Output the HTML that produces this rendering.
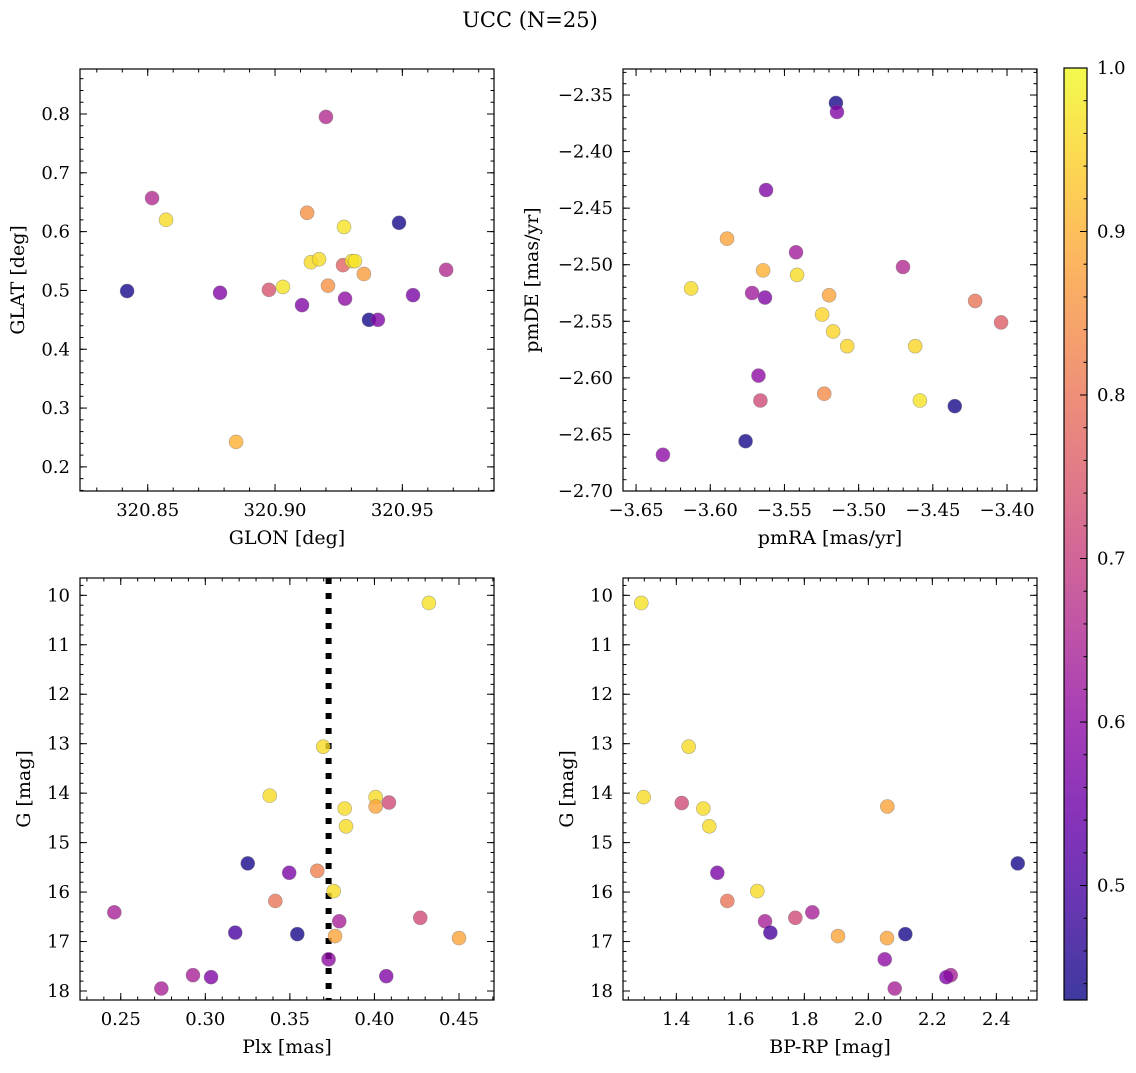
<!DOCTYPE html>
<html><head><meta charset="utf-8"><style>
body{margin:0;background:#fff;}
svg text{font-family:"DejaVu Serif","Liberation Serif",serif;fill:#000;}
</style></head><body>
<svg id="fig" width="1136" height="1068" viewBox="0 0 1136 1068" xmlns="http://www.w3.org/2000/svg">
<text x="530" y="27" font-size="21" text-anchor="middle">UCC (N=25)</text>
<defs><linearGradient id="plasma" x1="0" y1="1" x2="0" y2="0">
<stop offset="0" stop-color="#0d0887"/><stop offset="0.1" stop-color="#41049d"/><stop offset="0.2" stop-color="#6a00a8"/><stop offset="0.3" stop-color="#8f0da4"/><stop offset="0.4" stop-color="#b12a90"/><stop offset="0.5" stop-color="#cc4778"/><stop offset="0.6" stop-color="#e16462"/><stop offset="0.7" stop-color="#f2844b"/><stop offset="0.8" stop-color="#fca636"/><stop offset="0.9" stop-color="#fcce25"/><stop offset="1" stop-color="#f0f921"/>
</linearGradient></defs>
</svg>
<script>
// ---- data ----
const glon = [320.8419,320.8517,320.8572,320.8784,320.8847,320.8976,320.9031,320.9106,320.9126,320.9141,320.9173,320.9200,320.9208,320.9267,320.9271,320.9275,320.9302,320.9314,320.9349,320.9369,320.9404,320.9487,320.9542,320.9672];
const glat = [0.499,0.657,0.620,0.496,0.2425,0.501,0.506,0.475,0.632,0.548,0.553,0.795,0.508,0.543,0.608,0.486,0.550,0.550,0.528,0.450,0.450,0.615,0.492,0.535];
const probA = [0.44,0.66,0.96,0.58,0.9,0.74,0.97,0.58,0.85,0.96,0.96,0.66,0.85,0.77,0.97,0.6,0.97,0.97,0.87,0.44,0.58,0.44,0.57,0.66];
const pmra = [-3.5153,-3.5146,-3.5624,-3.5887,-3.5422,-3.5644,-3.5415,-3.4701,-3.6129,-3.5718,-3.5631,-3.5199,-3.4215,-3.4040,-3.5246,-3.5172,-3.5077,-3.4619,-3.5675,-3.5662,-3.5232,-3.4587,-3.4352,-3.5762,-3.6319];
const pmde = [-2.357,-2.365,-2.434,-2.477,-2.489,-2.505,-2.509,-2.502,-2.521,-2.525,-2.529,-2.527,-2.532,-2.551,-2.544,-2.559,-2.572,-2.572,-2.598,-2.620,-2.614,-2.620,-2.625,-2.656,-2.668];
const probB = [0.44,0.58,0.58,0.88,0.63,0.9,0.96,0.66,0.96,0.63,0.58,0.88,0.8,0.76,0.95,0.95,0.95,0.95,0.6,0.72,0.84,0.97,0.44,0.44,0.6];
const plx = [0.4322,0.3697,0.3381,0.4007,0.4007,0.4086,0.3824,0.3832,0.3251,0.3496,0.3662,0.3759,0.3414,0.2462,0.4271,0.3792,0.3177,0.3544,0.3767,0.4500,0.3729,0.2927,0.3034,0.4070,0.2740];
const gmagC = [10.155,13.06,14.05,14.08,14.27,14.19,14.31,14.67,15.42,15.61,15.57,15.98,16.18,16.41,16.52,16.59,16.82,16.85,16.89,16.93,17.36,17.68,17.72,17.70,17.95];
const probC = [0.97,0.96,0.96,0.96,0.88,0.72,0.96,0.96,0.44,0.57,0.82,0.96,0.8,0.64,0.72,0.64,0.5,0.44,0.88,0.88,0.6,0.64,0.58,0.58,0.64];
const plxLine = 0.3729;
const bprp = [1.2906,1.4387,1.2981,1.4169,1.4844,1.5031,2.0594,1.5281,2.4669,1.6531,1.5594,1.8250,1.7719,1.6772,1.6938,1.9053,2.0584,2.1156,2.0513,2.2575,2.2438,2.0825];
const gmagD = [10.155,13.06,14.08,14.20,14.31,14.67,14.27,15.61,15.42,15.98,16.18,16.41,16.52,16.59,16.82,16.89,16.93,16.85,17.36,17.68,17.72,17.95];
const probD = [0.97,0.96,0.96,0.72,0.96,0.96,0.88,0.57,0.44,0.96,0.8,0.64,0.72,0.64,0.5,0.88,0.88,0.44,0.6,0.64,0.58,0.64];
const cbTicks = [0.5,0.6,0.7,0.8,0.9,1.0];
const vmin = 0.43, vmax = 1.0;

const NS='http://www.w3.org/2000/svg';
const svg=document.getElementById('fig');
function mk(tag,attrs,parent){const e=document.createElementNS(NS,tag);for(const k in attrs)e.setAttribute(k,attrs[k]);(parent||svg).appendChild(e);return e;}
const stops=[[13,8,135],[65,4,157],[106,0,168],[143,13,164],[177,42,144],[204,71,120],[225,100,98],[242,132,75],[252,166,54],[252,206,37],[240,249,33]];
function plasma(v){let t=(v-vmin)/(vmax-vmin);t=Math.max(0,Math.min(1,t))*10;const i=Math.min(9,Math.floor(t)),f=t-i;const a=stops[i],b=stops[i+1];return 'rgb('+a.map((c,k)=>Math.round(c+(b[k]-c)*f)).join(',')+')';}
function fmt(v,d){const s=Math.abs(v).toFixed(d);return (v<-1e-9?'\u2212':'')+s;}

function panel(o){
  const g=mk('g',{});
  
  
  const {x0,y0,w,h}=o;
  const sx=v=>x0+(v-o.xd[0])/(o.xd[1]-o.xd[0])*w;
  const sy=o.yinv?(v=>y0+(v-o.yd[0])/(o.yd[1]-o.yd[0])*h):(v=>y0+h-(v-o.yd[0])/(o.yd[1]-o.yd[0])*h);
  const tk=mk('g',{stroke:'#000','stroke-width':1},g);
  
  
  const lo=Math.min(...o.xd),hi=Math.max(...o.xd);
  for(let i=Math.ceil(lo/o.xm-1e-6);i*o.xm<=hi+1e-9;i++){const p=sx(i*o.xm);mk('line',{x1:p,x2:p,y1:y0+h,y2:y0+h-3.5},tk);mk('line',{x1:p,x2:p,y1:y0,y2:y0+3.5},tk);}
  const ylo=Math.min(...o.yd),yhi=Math.max(...o.yd);
  for(let i=Math.ceil(ylo/o.ym-1e-6);i*o.ym<=yhi+1e-9;i++){const p=sy(i*o.ym);mk('line',{y1:p,y2:p,x1:x0,x2:x0+3.5},tk);mk('line',{y1:p,y2:p,x1:x0+w,x2:x0+w-3.5},tk);}
  o.xt.forEach(v=>{const p=sx(v);mk('line',{x1:p,x2:p,y1:y0+h,y2:y0+h-7},tk);mk('line',{x1:p,x2:p,y1:y0,y2:y0+7},tk);
    const t=mk('text',{x:p,y:y0+h+25,'font-size':18,'text-anchor':'middle'},g);t.textContent=fmt(v,o.xdec);
    
    });
  o.yt.forEach(v=>{const p=sy(v);mk('line',{y1:p,y2:p,x1:x0,x2:x0+7},tk);mk('line',{y1:p,y2:p,x1:x0+w,x2:x0+w-7},tk);
    const t=mk('text',{x:x0-10,y:p+6,'font-size':18,'text-anchor':'end'},g);t.textContent=fmt(v,o.ydec);
    
    });
  if(o.vline!==undefined){const p=sx(o.vline);const l=mk('line',{x1:p,x2:p,y1:y0,y2:y0+h,stroke:'#000','stroke-width':6,'stroke-dasharray':'6 9'},g);
    
    }
  const pts=mk('g',{},g);
  
  
  o.xs.forEach((xv,i)=>{const c=mk('circle',{cx:sx(xv),cy:sy(o.ys[i]),r:7,fill:plasma(o.cs[i]),'fill-opacity':0.8,stroke:'#777','stroke-opacity':0.6,'stroke-width':0.6},pts);
    
    });
  const fr=mk('rect',{x:x0,y:y0,width:w,height:h,fill:'none',stroke:'#000','stroke-width':1.2},g);
  
  
  const xl=mk('text',{x:x0+w/2,y:y0+h+53,'font-size':19,'text-anchor':'middle'},g);xl.textContent=o.xlab;
  
  
  const yx=o.ylx, yc=y0+h/2;
  const yl=mk('text',{x:yx,y:yc,'font-size':19,'text-anchor':'middle',transform:'rotate(-90 '+yx+' '+yc+')'},g);yl.textContent=o.ylab;
  
  
}
panel({name:'glon-glat-panel',x0:80,y0:69,w:414,h:422,xd:[320.8234,320.986],yd:[0.159,0.8765],xt:[320.85,320.90,320.95],yt:[0.2,0.3,0.4,0.5,0.6,0.7,0.8],xm:0.01,ym:0.02,xdec:2,ydec:1,xs:glon,ys:glat,cs:probA,xlab:'GLON [deg]',ylab:'GLAT [deg]',ylx:24});
panel({name:'pm-panel',x0:623,y0:69,w:414,h:422,xd:[-3.6588,-3.3798],yd:[-2.70,-2.327],xt:[-3.65,-3.60,-3.55,-3.50,-3.45,-3.40],yt:[-2.70,-2.65,-2.60,-2.55,-2.50,-2.45,-2.40,-2.35],xm:0.01,ym:0.01,xdec:2,ydec:2,xs:pmra,ys:pmde,cs:probB,xlab:'pmRA [mas/yr]',ylab:'pmDE [mas/yr]',ylx:538});
panel({name:'plx-g-panel',x0:80,y0:578,w:414,h:422,xd:[0.2259,0.4707],yd:[9.650,18.182],yinv:true,xt:[0.25,0.30,0.35,0.40,0.45],yt:[10,11,12,13,14,15,16,17,18],xm:0.01,ym:0.2,xdec:2,ydec:0,xs:plx,ys:gmagC,cs:probC,vline:plxLine,xlab:'Plx [mas]',ylab:'G [mag]',ylx:30});
panel({name:'cmd-panel',x0:623,y0:578,w:414,h:422,xd:[1.2334,2.527],yd:[9.650,18.182],yinv:true,xt:[1.4,1.6,1.8,2.0,2.2,2.4],yt:[10,11,12,13,14,15,16,17,18],xm:0.05,ym:0.2,xdec:1,ydec:0,xs:bprp,ys:gmagD,cs:probD,xlab:'BP-RP [mag]',ylab:'G [mag]',ylx:573});
const cb=mk('g',{});


const cx0=1064,cy0=68,cw=23,ch=932;
mk('rect',{x:cx0,y:cy0,width:cw,height:ch,fill:'url(#plasma)','fill-opacity':0.8},cb);
mk('rect',{x:cx0,y:cy0,width:cw,height:ch,fill:'none',stroke:'#000','stroke-width':1.2},cb);
const cy=v=>cy0+ch-(v-vmin)/(vmax-vmin)*ch;
for(let i=Math.ceil(vmin/0.02-1e-6);i*0.02<=vmax+1e-9;i++){const p=cy(i*0.02);mk('line',{x1:cx0+cw,x2:cx0+cw-3.5,y1:p,y2:p,stroke:'#000'},cb);}
cbTicks.forEach(v=>{const p=cy(v);mk('line',{x1:cx0+cw,x2:cx0+cw-7,y1:p,y2:p,stroke:'#000'},cb);
  const t=mk('text',{x:cx0+cw+10,y:p+6,'font-size':18},cb);t.textContent=v.toFixed(1);
  
  });
</script>
</body></html>
